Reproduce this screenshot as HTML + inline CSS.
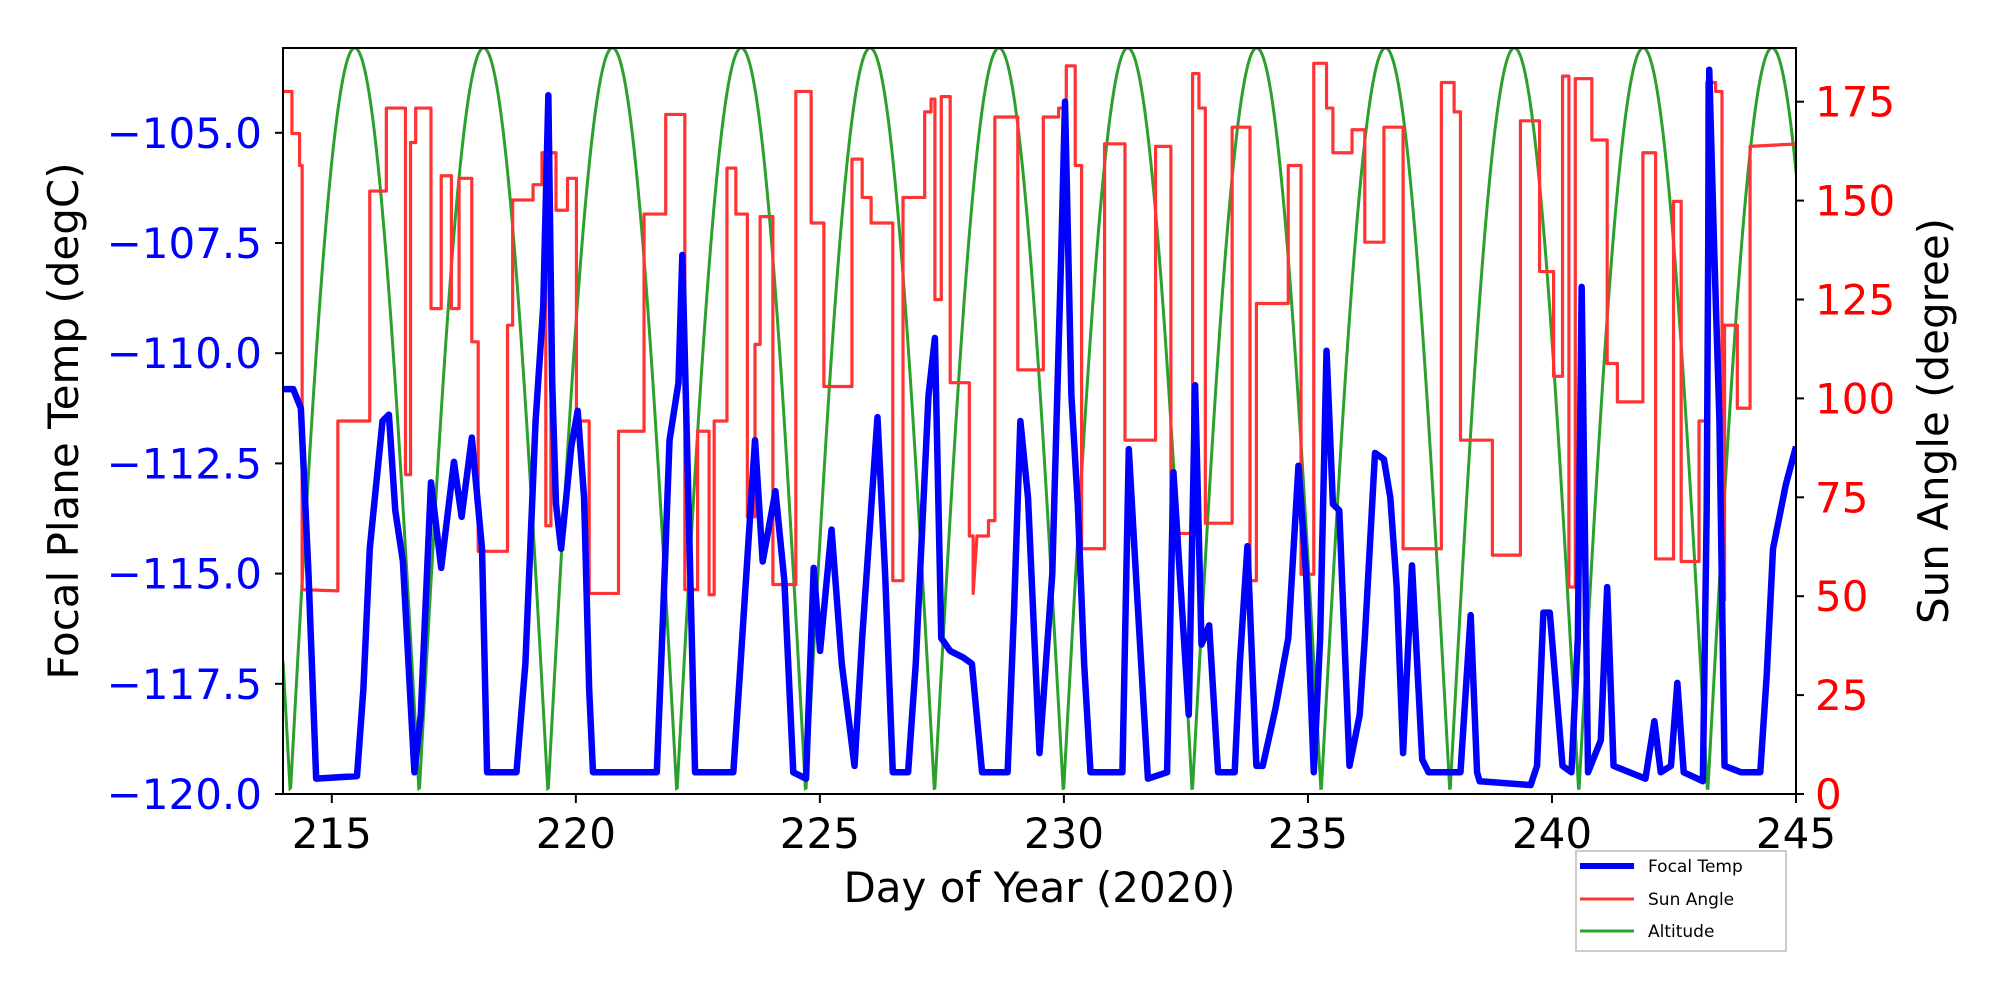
<!DOCTYPE html>
<html><head><meta charset="utf-8"><style>
html,body{margin:0;padding:0;background:#fff;}
svg{display:block;font-family:"DejaVu Sans","Liberation Sans",sans-serif;}
</style></head><body>
<svg id="s" width="2000" height="1000" viewBox="0 0 2000 1000" xmlns="http://www.w3.org/2000/svg">
<rect width="2000" height="1000" fill="#fff"/>
<defs><clipPath id="c"><rect x="283" y="48" width="1513" height="746"/></clipPath></defs>
<g clip-path="url(#c)">
<g transform="matrix(1.2757,0,0,1.2774,-0.2,-0.54)">
<polyline id="alt" fill="none" stroke="#2ca02c" stroke-width="3" vector-effect="non-scaling-stroke" points=""/>
<polyline id="sun" fill="none" stroke="#ff3333" stroke-width="3.2" stroke-linejoin="round" vector-effect="non-scaling-stroke" points="222,72 229,72 229,105 235,105 235,130 237,130 237,462 265,463 265,330 290,330 290,150 303,150 303,85 318,85 318,372 322,372 322,112 326,112 326,85 338,85 338,242 346,242 346,138 354,138 354,242 360,242 360,140 370,140 370,268 375,268 375,432 398,432 398,255 402,255 402,157 418,157 418,145 425,145 425,120 428,120 428,412 432,412 432,120 436,120 436,165 445,165 445,140 452,140 452,330 462,330 462,465 485,465 485,338 505,338 505,168 522,168 522,90 537,90 537,462 547,462 547,338 556,338 556,466 560,466 560,330 570,330 570,132 577,132 577,168 586,168 586,405 592,405 592,270 596,270 596,170 606,170 606,458 624,458 624,72 636,72 636,175 646,175 646,303 668,303 668,125 676,125 676,155 683,155 683,175 700,175 700,455 708,455 708,155 725,155 725,88 730,88 730,78 733,78 733,235 738,235 738,76 745,76 745,300 760,300 760,420 763,420 763,465 766,420 775,420 775,408 780,408 780,92 798,92 798,290 818,290 818,92 830,92 830,85 836,85 836,52 843,52 843,130 848,130 848,430 866,430 866,113 882,113 882,345 906,345 906,115 918,115 918,418 935,418 935,58 940,58 940,85 945,85 945,410 966,410 966,100 980,100 980,455 985,455 985,238 1010,238 1010,130 1020,130 1020,450 1030,450 1030,50 1040,50 1040,85 1045,85 1045,120 1060,120 1060,102 1070,102 1070,190 1085,190 1085,100 1100,100 1100,430 1130,430 1130,65 1140,65 1140,88 1145,88 1145,345 1170,345 1170,435 1192,435 1192,95 1207,95 1207,213 1218,213 1218,295 1225,295 1225,60 1230,60 1230,460 1235,460 1235,62 1248,62 1248,110 1260,110 1260,285 1268,285 1268,315 1288,315 1288,120 1298,120 1298,438 1312,438 1312,158 1318,158 1318,440 1332,440 1332,330 1338,330 1338,65 1345,65 1345,72 1350,72 1350,470 1352,470 1352,255 1362,255 1362,320 1372,320 1372,115 1410,113"/>
<polyline fill="none" stroke="#0000ff" stroke-width="6.5" stroke-linejoin="round" vector-effect="non-scaling-stroke" points="222,305 230,305 236,320 242,450 248,610 280,608 285,540 290,430 300,330 305,325 310,400 316,440 325,605 330,560 338,378 346,445 356,362 362,405 370,343 378,430 382,605 405,605 412,520 420,330 426,240 430,75 433,300 436,395 440,430 448,350 453,322 458,390 462,540 465,605 515,605 520,480 525,345 532,300 535,200 538,320 540,400 545,605 575,605 580,530 592,345 598,440 608,385 615,455 622,605 632,610 638,445 643,510 652,415 660,520 670,600 676,500 688,327 694,450 700,605 712,605 718,520 728,310 733,265 738,500 745,510 755,515 762,520 770,605 790,605 795,480 800,330 806,390 815,590 825,450 832,200 835,80 840,310 845,395 850,520 855,605 880,605 885,352 890,440 900,610 915,605 920,370 925,450 932,560 937,302 942,505 948,490 955,605 968,605 972,520 978,428 985,600 990,600 1000,555 1010,500 1018,365 1024,450 1030,605 1035,500 1040,275 1045,395 1050,400 1058,600 1066,560 1070,500 1078,355 1085,360 1090,390 1095,460 1100,590 1107,443 1115,595 1120,605 1145,605 1153,482 1158,605 1160,612 1200,615 1205,600 1210,480 1215,480 1225,600 1232,605 1237,500 1240,225 1245,605 1255,580 1260,460 1265,600 1290,610 1297,565 1302,605 1310,600 1315,535 1320,605 1335,612 1338,400 1340,55 1344,200 1348,330 1352,600 1365,605 1380,605 1385,530 1390,430 1400,380 1408,350"/>
</g>
</g>
<rect x="283" y="48" width="1513" height="746" fill="none" stroke="#000" stroke-width="2"/>
<g id="ticks" stroke="#000" stroke-width="2"></g>
<g id="labels" font-size="42"></g>
<text x="1039.5" y="902" font-size="42" text-anchor="middle" fill="#000">Day of Year (2020)</text>
<text transform="translate(78,421) rotate(-90)" font-size="42" text-anchor="middle" fill="#000">Focal Plane Temp (degC)</text>
<text transform="translate(1948,421) rotate(-90)" font-size="42" text-anchor="middle" fill="#000">Sun Angle (degree)</text>
<rect x="1576" y="851" width="210" height="100" fill="#fff" stroke="#cccccc" stroke-width="2"/>
<line x1="1580" y1="866" x2="1634" y2="866" stroke="#0000ff" stroke-width="6"/>
<line x1="1580" y1="899" x2="1634" y2="899" stroke="#ff3333" stroke-width="3"/>
<line x1="1580" y1="931" x2="1634" y2="931" stroke="#2ca02c" stroke-width="3"/>
<g font-size="17" fill="#000">
<text x="1648" y="872">Focal Temp</text>
<text x="1648" y="905">Sun Angle</text>
<text x="1648" y="937">Altitude</text>
</g>
</svg>
<script>
(function(){
var pts=[];
for(var x=222;x<=1410;x+=0.5){
 var t=214+(x-222)/38.258;
 var v=188.6*Math.abs(Math.sin(Math.PI*(t-214.15)/2.64));
 pts.push(x.toFixed(1)+","+(622-v*3.097).toFixed(2));
}
document.getElementById('alt').setAttribute('points',pts.join(' '));
var NS="http://www.w3.org/2000/svg";
var tk=document.getElementById('ticks'),lb=document.getElementById('labels');
function line(a,b,c,d){var l=document.createElementNS(NS,'line');l.setAttribute('x1',a);l.setAttribute('y1',b);l.setAttribute('x2',c);l.setAttribute('y2',d);tk.appendChild(l);}
function text(x,y,s,anc,col){var t=document.createElementNS(NS,'text');t.setAttribute('x',x);t.setAttribute('y',y);t.setAttribute('text-anchor',anc);t.setAttribute('fill',col);t.textContent=s;lb.appendChild(t);}
for(var d=215;d<=245;d+=5){var x=283+(d-214)*1513/31;line(x,794,x,803);text(x,848,d,'middle','#000');}
for(var i=0;i<7;i++){var v=-120+2.5*i;var y=794-i*110.2;line(283,y,275,y);text(262,y+15,'\u2212'+Math.abs(v).toFixed(1),'end','#0000ff');}
for(var i=0;i<8;i++){var y=794-i*98.9;line(1796,y,1804,y);text(1815,y+15,String(25*i),'start','#ff0000');}
})();
</script>
</body></html>
